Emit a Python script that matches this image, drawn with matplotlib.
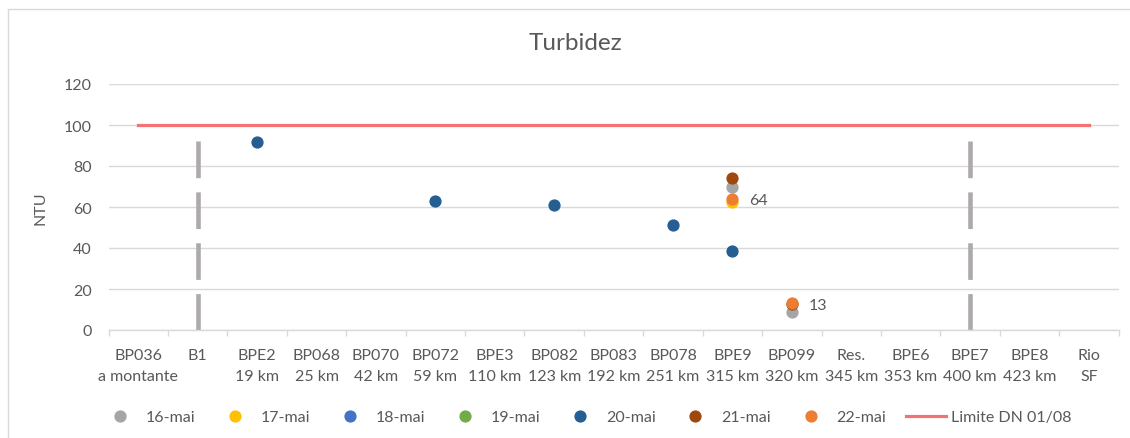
import matplotlib
matplotlib.use('Agg')
import matplotlib.pyplot as plt
import numpy as np
from matplotlib.lines import Line2D
from matplotlib.patches import Rectangle

plt.rcParams['font.family'] = ['Lato', 'DejaVu Sans']

# sampling points along the river
categories = ['BP036\na montante', 'B1', 'BPE2\n19 km', 'BP068\n25 km', 'BP070\n42 km',
              'BP072\n59 km', 'BPE3\n110 km', 'BP082\n123 km', 'BP083\n192 km',
              'BP078\n251 km', 'BPE9\n315 km', 'BP099\n320 km', 'Res.\n345 km',
              'BPE6\n353 km', 'BPE7\n400 km', 'BPE8\n423 km', 'Rio\nSF']

n = None
# turbidity (NTU) per day, one value per category (None = no sample)
mai16 = [n, n, n, n, n, n, n, n, n, n, 70, 9, n, n, n, n, n]
mai17 = [n, n, n, n, n, n, n, n, n, n, 62.5, n, n, n, n, n, n]
mai18 = [n, n, n, n, n, n, n, n, n, n, n, n, n, n, n, n, n]
mai19 = [n, n, n, n, n, n, n, n, n, n, n, n, n, n, n, n, n]
mai20 = [n, n, 91.5, n, n, 63, n, 61, n, 51, 38.5, n, n, n, n, n, n]
mai21 = [n, n, n, n, n, n, n, n, n, n, 74, 12.5, n, n, n, n, n]
mai22 = [n, n, n, n, n, n, n, n, n, n, 64, 13, n, n, n, n, n]

series = [('16-mai', mai16, '#A5A5A5'), ('17-mai', mai17, '#FFC000'),
          ('18-mai', mai18, '#4472C4'), ('19-mai', mai19, '#70AD47'),
          ('20-mai', mai20, '#255E91'), ('21-mai', mai21, '#9E480E'),
          ('22-mai', mai22, '#ED7D31')]

limite = 100
limite_label = 'Limite DN 01/08'

# dam markers (dashed vertical bars)
marker_sites = ['B1', 'BPE7']
marker_height = 92

text_col = '#595959'
grid_col = '#D9D9D9'

fig = plt.figure(figsize=(11.3, 4.39), dpi=100)
ax = fig.add_axes([108.6 / 1130, 1 - 331 / 439, 1010 / 1130, 246 / 439])

x = np.arange(len(categories))
short = [c.split('\n')[0] for c in categories]

for site in marker_sites:
    xi = short.index(site)
    ax.plot([xi, xi], [marker_height, 0], color='#AEAAAA', lw=3.3,
            dashes=(8, 3.1), solid_capstyle='butt', zorder=2)

ax.plot([x[0], x[-1]], [limite, limite], color='#F47174', lw=2.3, zorder=3)

handles = []
for name, vals, col in series:
    v = np.array([np.nan if a is None else a for a in vals], dtype=float)
    ax.plot(x, v, 'o', color=col, ms=7.8, zorder=4)
    handles.append(Line2D([], [], marker='o', ls='', color=col, ms=7.8, label=name))
handles.append(Line2D([], [], color='#F47174', lw=2.3, label=limite_label))

# data labels for the last day
for xi, val in zip(x, mai22):
    if val is not None:
        ax.annotate(f'{val:.0f}', (xi, val), xytext=(12, -1), textcoords='offset points',
                    va='center', ha='left', fontsize=11.5, color=text_col)

ax.set_xlim(-0.5, len(categories) - 0.5)
ax.set_ylim(0, 120)
ax.set_yticks(np.arange(0, 121, 20))
ax.yaxis.grid(True, color=grid_col, lw=1)
ax.set_axisbelow(True)
for s in ['top', 'right', 'left']:
    ax.spines[s].set_visible(False)
ax.spines['bottom'].set_color(grid_col)
ax.spines['bottom'].set_linewidth(1)

ax.set_xticks(x)
ax.set_xticklabels(categories, linespacing=1.6)
ax.set_xticks(np.arange(len(categories) + 1) - 0.5, minor=True)
ax.tick_params(axis='x', which='major', length=0, pad=13, labelsize=11.5, labelcolor=text_col)
ax.tick_params(axis='x', which='minor', length=4, color=grid_col, width=1)
ax.tick_params(axis='y', length=0, pad=12, labelsize=11.5, labelcolor=text_col)

ax.set_ylabel('NTU', fontsize=11.5, color=text_col)
ax.yaxis.set_label_coords((48 - 108.6) / 1010, 0.5)

fig.text(575 / 1130, 1 - 43 / 439, 'Turbidez', ha='center', va='center',
         fontsize=17.5, color=text_col)

fig.legend(handles=handles, ncol=8, loc='center', bbox_to_anchor=(586 / 1130, 1 - 418 / 439),
           frameon=False, fontsize=11.5, handlelength=2.5, handletextpad=0.35,
           columnspacing=1.25, labelcolor=text_col)

fig.add_artist(Rectangle((8 / 1130, -0.1), 1.2, 1 - 10 / 439 + 0.1, transform=fig.transFigure,
                         fill=False, edgecolor=grid_col, lw=1))

fig.savefig('out.png', dpi=100)
